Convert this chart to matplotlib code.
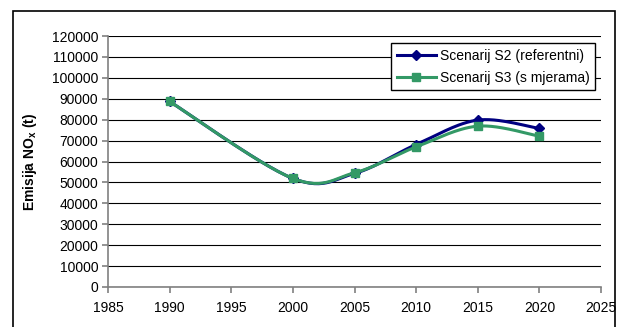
import numpy as np
import matplotlib
matplotlib.use("Agg")
import matplotlib.pyplot as plt
from matplotlib.patches import Rectangle

plt.rcParams['font.family'] = ['Liberation Sans', 'DejaVu Sans']

years = [1990, 2000, 2005, 2010, 2015, 2020]
s2_referentni = [88700, 51900, 54300, 68100, 79800, 75800]
s3_mjere = [88700, 51900, 54600, 67000, 76900, 72100]


def smooth(x, y, n=30):
    # Catmull-Rom style bezier smoothing between points
    x = np.asarray(x, float)
    y = np.asarray(y, float)
    xs, ys = [x[0]], [y[0]]
    for i in range(len(x) - 1):
        p0 = (x[max(i - 1, 0)], y[max(i - 1, 0)])
        p1 = (x[i], y[i])
        p2 = (x[i + 1], y[i + 1])
        p3 = (x[min(i + 2, len(x) - 1)], y[min(i + 2, len(x) - 1)])
        c1 = (p1[0] + (p2[0] - p0[0]) / 6, p1[1] + (p2[1] - p0[1]) / 6)
        c2 = (p2[0] - (p3[0] - p1[0]) / 6, p2[1] - (p3[1] - p1[1]) / 6)
        t = np.linspace(0, 1, n)[1:]
        bx = (1 - t) ** 3 * p1[0] + 3 * (1 - t) ** 2 * t * c1[0] + 3 * (1 - t) * t ** 2 * c2[0] + t ** 3 * p2[0]
        by = (1 - t) ** 3 * p1[1] + 3 * (1 - t) ** 2 * t * c1[1] + 3 * (1 - t) * t ** 2 * c2[1] + t ** 3 * p2[1]
        xs.extend(bx)
        ys.extend(by)
    return np.array(xs), np.array(ys)


fig = plt.figure(figsize=(6.24, 3.27), dpi=100)
ax = fig.add_axes([108 / 624, 1 - 287 / 327, (601 - 108) / 624, (287 - 36) / 327])

# outer chart frame
fig.patches.append(Rectangle((13 / 624, -0.05), (615 - 13) / 624, 1.05 - 11 / 327,
                             transform=fig.transFigure, fill=False, edgecolor='black', linewidth=1.2))

navy = '#000080'
green = '#339966'

sx, sy = smooth(years, s2_referentni)
ax.plot(sx, sy, color=navy, linewidth=2.2, zorder=3)
ax.plot(years, s2_referentni, linestyle='none', marker='D', markersize=5, color=navy, zorder=4)
gx, gy = smooth(years, s3_mjere)
ax.plot(gx, gy, color=green, linewidth=2.2, zorder=5)
ax.plot(years, s3_mjere, linestyle='none', marker='s', markersize=6, color=green, zorder=6)

# legend proxies
ax.plot([], [], color=navy, linewidth=2.2, marker='D', markersize=5, label='Scenarij S2 (referentni)')
ax.plot([], [], color=green, linewidth=2.2, marker='s', markersize=6, label='Scenarij S3 (s mjerama)')

ax.set_xlim(1985, 2025)
ax.set_ylim(0, 120000)
ax.set_xticks(range(1985, 2026, 5))
ax.set_yticks(range(0, 120001, 10000))
ax.yaxis.grid(True, color='black', linewidth=0.8)
ax.set_axisbelow(True)
for s in ['top', 'right']:
    ax.spines[s].set_visible(False)
for s in ['left', 'bottom']:
    ax.spines[s].set_color('#808080')
    ax.spines[s].set_linewidth(1.2)
ax.tick_params(axis='both', direction='out', length=4, color='#808080', width=1.2, labelsize=10, pad=3)
ax.tick_params(axis='x', pad=6)

ax.set_ylabel(r'Emisija NO$_\mathregular{x}$ (t)', fontsize=10, fontweight='bold')
ax.yaxis.set_label_coords(-0.14, 0.5)

handles, labels = ax.get_legend_handles_labels()
leg = ax.legend(handles[-2:], labels[-2:], loc='upper right', bbox_to_anchor=(0.988, 0.972),
                borderaxespad=0, fontsize=10, frameon=True, fancybox=False, edgecolor='black',
                framealpha=1, handlelength=2.8, borderpad=0.4, labelspacing=0.6, handletextpad=0.3)
leg.get_frame().set_linewidth(1.0)

fig.savefig('out.png', dpi=100)
